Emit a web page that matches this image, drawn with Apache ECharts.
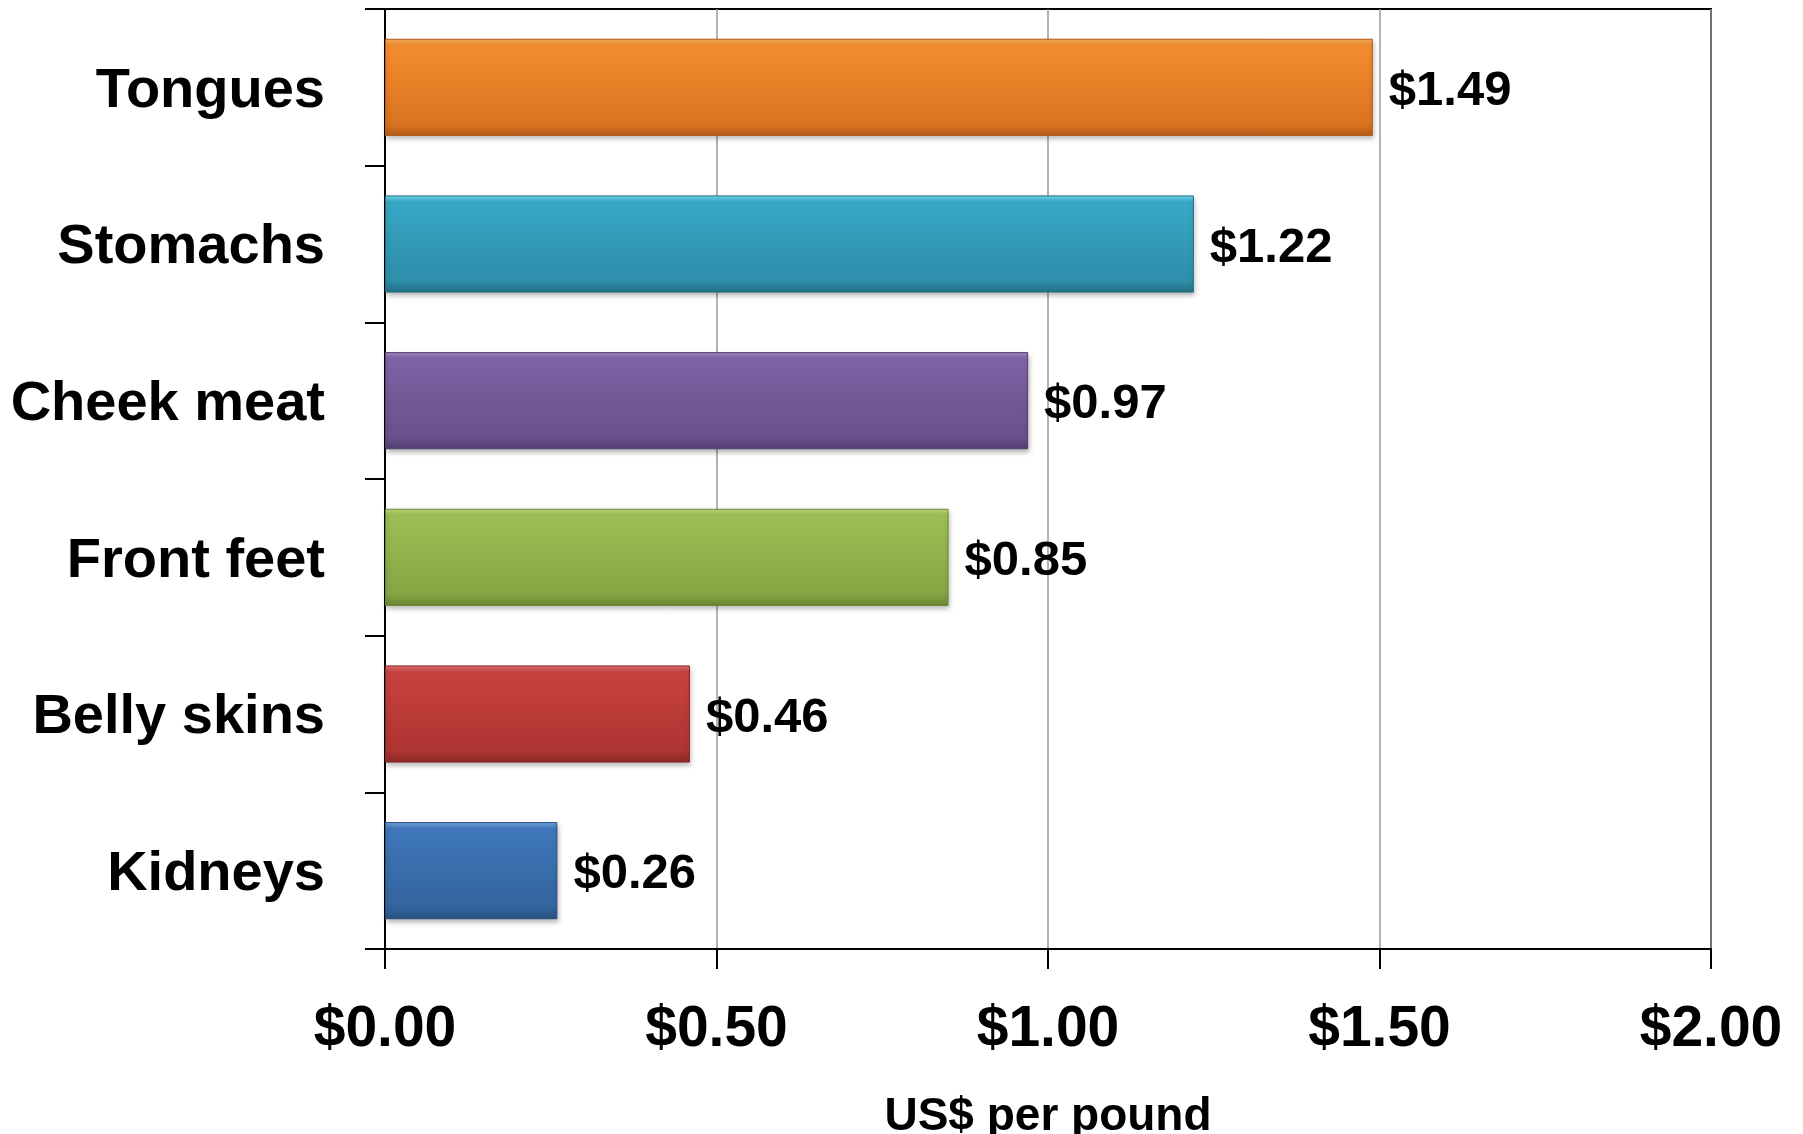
<!DOCTYPE html>
<html>
<head>
<meta charset="utf-8">
<script src="https://cdn.jsdelivr.net/npm/echarts@6/dist/echarts.min.js"></script>
<style>
html,body{margin:0;padding:0;background:#fff;}
#chart{width:1803px;height:1134px;}
</style>
</head>
<body>
<div id="chart"></div>
<script>
const categories = ['Tongues', 'Stomachs', 'Cheek meat', 'Front feet', 'Belly skins', 'Kidneys'];
const values = [1.49, 1.22, 0.97, 0.85, 0.46, 0.26];
const barColors = [
  ['#FBB060', '#F48D2E', '#DA7320', '#B55C1A'],
  ['#72E0F6', '#38A8C6', '#2D8EA9', '#236F84'],
  ['#A58BC8', '#8064A6', '#694F8C', '#533E70'],
  ['#C2DE7E', '#9CBF55', '#85A544', '#6A8534'],
  ['#E27472', '#C8423F', '#AE3432', '#8A2826'],
  ['#74A8E0', '#3F78BC', '#33649E', '#284F7E']
];
const xAxisName = 'US$ per pound';
const xMin = 0, xMax = 2, xInterval = 0.5;

const FONT = '"Liberation Sans", Arial, sans-serif';

function grad(c) {
  return new echarts.graphic.LinearGradient(0, 0, 0, 1, [
    {offset: 0, color: c[0]},
    {offset: 0.07, color: c[1]},
    {offset: 0.88, color: c[2]},
    {offset: 1, color: c[3]}
  ]);
}

const chart = echarts.init(document.getElementById('chart'));
chart.setOption({
  animation: false,
  backgroundColor: '#fff',
  grid: {
    left: 385, right: 92, top: 9, bottom: 185,
    outerBoundsMode: 'none', containLabel: false,
    show: true, borderColor: '#000', borderWidth: 2, backgroundColor: 'transparent'
  },
  xAxis: {
    type: 'value', min: xMin, max: xMax, interval: xInterval,
    name: xAxisName, nameLocation: 'middle', nameGap: 145,
    nameTextStyle: {fontFamily: FONT, fontWeight: 'bold', fontSize: 46, color: '#000'},
    axisLine: {show: true, lineStyle: {color: '#000', width: 2}},
    axisTick: {show: true, length: 20, lineStyle: {color: '#000', width: 2}},
    axisLabel: {
      margin: 53, fontFamily: FONT, fontWeight: 'bold', fontSize: 57, color: '#000',
      formatter: v => '$' + v.toFixed(2)
    },
    splitLine: {show: true, lineStyle: {color: '#9a9a9a', width: 1.5}}
  },
  yAxis: {
    type: 'category', data: categories, inverse: true,
    axisLine: {show: true, lineStyle: {color: '#000', width: 2}},
    axisTick: {show: true, length: 20, lineStyle: {color: '#000', width: 2}},
    axisLabel: {
      margin: 60, color: '#000',
      formatter: v => '{c|' + v + '}',
      rich: {c: {fontFamily: FONT, fontWeight: 'bold', fontSize: 56, color: '#000', padding: [8, 0, 0, 0]}}
    },
    splitLine: {show: false}
  },
  series: [{
    type: 'bar',
    barWidth: '62%',
    data: values.map((v, i) => ({
      value: v,
      itemStyle: {
        color: grad(barColors[i]),
        borderColor: barColors[i][3], borderWidth: 1,
        shadowColor: 'rgba(0,0,0,0.3)', shadowBlur: 5, shadowOffsetY: 3, shadowOffsetX: 1
      }
    })),
    label: {
      show: true, position: 'right', distance: 16, offset: [0, 4],
      fontFamily: FONT, fontWeight: 'bold', fontSize: 49, color: '#000',
      formatter: p => '$' + p.value.toFixed(2)
    }
  }]
});
</script>
</body>
</html>
